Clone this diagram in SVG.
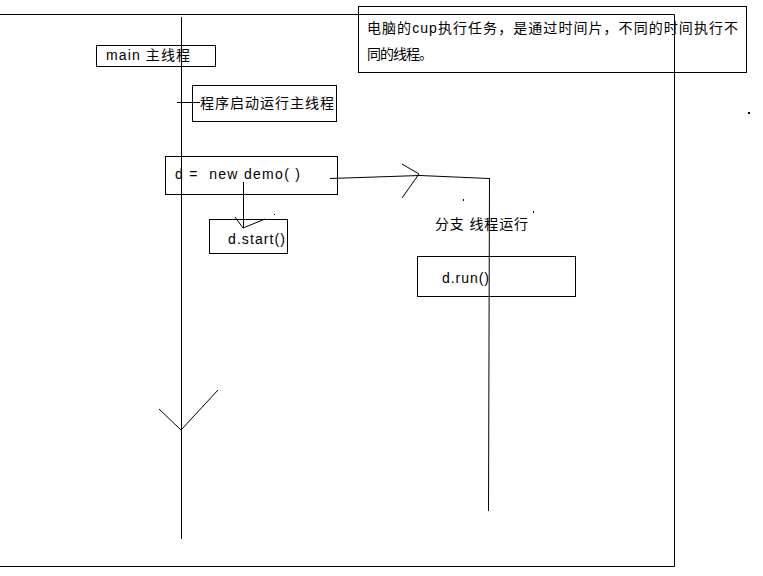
<svg xmlns="http://www.w3.org/2000/svg" width="763" height="576" viewBox="0 0 763 576">
<style>
.ln{stroke:#000;stroke-width:1;fill:none}
.box{stroke:#000;stroke-width:1;fill:none}
text{font-family:"Liberation Sans","Noto Sans CJK SC",sans-serif;font-size:14px;fill:#000}
</style>
<rect width="763" height="576" fill="#fff"/>
<g id="frame">
<polyline class="ln" points="0,14.5 674.5,14.5 674.5,566.5 0,566.5"/>
</g>
<g id="note">
<rect class="box" x="358.5" y="6.5" width="388" height="66"/>
<text x="367" y="33" textLength="371" lengthAdjust="spacing">电脑的cup执行任务，是通过时间片，不同的时间执行不</text>
<text x="367" y="59" textLength="66" lengthAdjust="spacing">同的线程。</text>
</g>
<g id="connectors">
<line class="ln" x1="181.5" y1="17" x2="181.5" y2="539"/>
<polyline class="ln" points="159,409 181,430 218,390"/>
<line class="ln" x1="177" y1="102.5" x2="200" y2="102.5"/>
<line class="ln" x1="243.5" y1="182" x2="243.5" y2="228"/>
<polyline class="ln" points="235,217 243,228 265,219"/>
<polyline class="ln" points="330,178.5 420,175.5 489,178.5"/>
<polyline class="ln" points="402,164 419,174 402,198"/>
<line class="ln" x1="489.5" y1="178" x2="488.5" y2="511"/>
<rect x="274" y="214" width="1" height="1" fill="#000"/>
<rect x="463" y="199" width="1" height="2" fill="#000"/>
<rect x="533" y="211" width="1" height="2" fill="#000"/>
<rect x="748" y="112" width="2" height="2" fill="#000"/>
</g>
<g id="main">
<rect class="box" x="96.5" y="45.5" width="119" height="21"/>
<text x="106" y="60" textLength="84" lengthAdjust="spacing">main 主线程</text>
</g>
<g id="start-main">
<rect class="box" x="192.5" y="85.5" width="144" height="36"/>
<text x="200" y="108" textLength="134" lengthAdjust="spacing">程序启动运行主线程</text>
</g>
<g id="new-demo">
<rect class="box" x="165.5" y="156.5" width="172" height="38"/>
<text x="175" y="179" font-size="15" xml:space="preserve" textLength="125" lengthAdjust="spacing">d =  new demo( )</text>
</g>
<g id="start">
<rect class="box" x="209.5" y="219.5" width="78" height="34"/>
<text x="228" y="244" font-size="15" textLength="57" lengthAdjust="spacing">d.start()</text>
</g>
<g id="branch">
<text x="435" y="229" textLength="93" lengthAdjust="spacing">分支 线程运行</text>
</g>
<g id="run">
<rect class="box" x="417.5" y="256.5" width="158" height="40"/>
<text x="442" y="283" font-size="15" textLength="47" lengthAdjust="spacing">d.run()</text>
</g>
</svg>
